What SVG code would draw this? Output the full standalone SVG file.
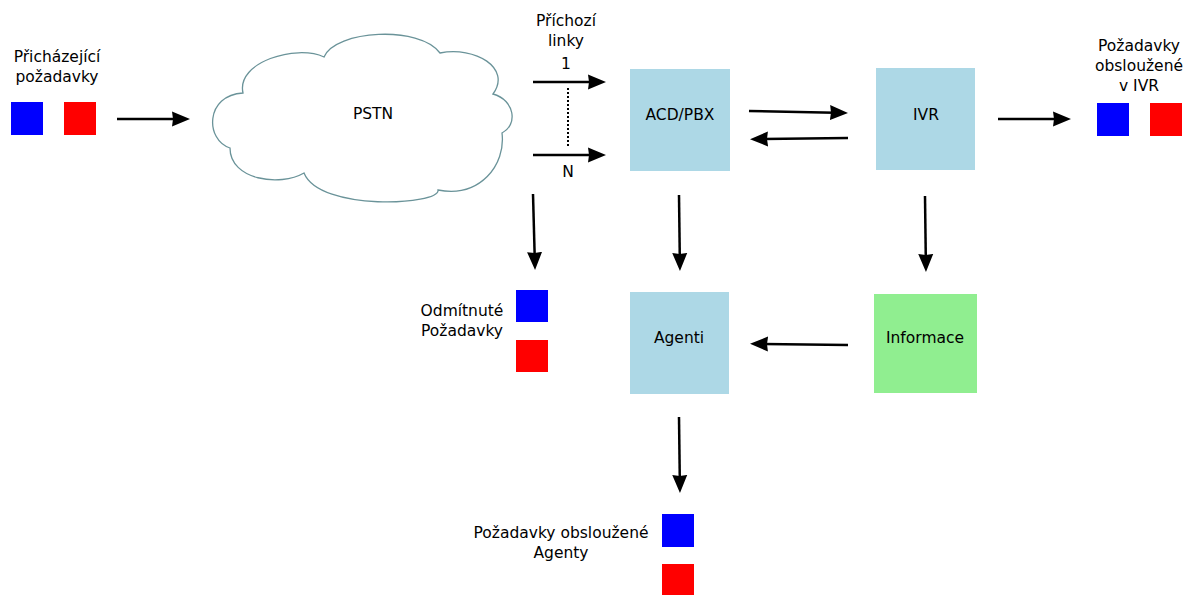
<svg xmlns="http://www.w3.org/2000/svg" width="1192" height="595" viewBox="0 0 1192 595">
<defs>
<marker id="ah" markerUnits="userSpaceOnUse" markerWidth="20" markerHeight="20" viewBox="-5 -10 20 20" refX="0" refY="0" orient="auto">
<path d="M-4,0 L-5,-7.5 L13,0 L-5,7.5 Z" fill="#000"/>
</marker>
</defs>
<style>
text{font-family:"DejaVu Sans","Liberation Sans",sans-serif;font-size:15.5px;fill:#000;text-anchor:middle}
.box{fill:#add8e6}
.green{fill:#90ee90}
.blue{fill:#0000ff}
.red{fill:#ff0000}
.conn line{stroke:#000;stroke-width:2.5;fill:none;marker-end:url(#ah)}
</style>
<rect width="1192" height="595" fill="#fff"/>
<g id="incoming">
<text x="57" y="62">Přicházející</text>
<text x="57" y="82">požadavky</text>
<rect class="blue" x="11" y="102" width="32" height="33"/>
<rect class="red" x="64" y="102" width="32" height="33"/>
</g>
<g id="pstn">
<path d="M243,93 C236,62 296,44 324,57 C335,30 420,25 440,53 C475,46 512,68 493,94 C515,100 518,125 502,133 C506,165 480,198 438,190 C440,205 320,212 304,173 C280,187 230,180 230,148 C205,140 205,95 243,93 Z" fill="#fff" stroke="#6a9399" stroke-width="1.3"/>
<text x="373" y="119">PSTN</text>
</g>
<g id="lines-label">
<text x="566" y="26">Příchozí</text>
<text x="566" y="46">linky</text>
<text x="566" y="69">1</text>
<text x="568" y="177">N</text>
</g>
<g id="acd">
<rect class="box" x="630" y="69" width="100" height="102"/>
<text x="680" y="120">ACD/PBX</text>
</g>
<g id="ivr">
<rect class="box" x="876" y="68" width="99" height="102"/>
<text x="926" y="120">IVR</text>
</g>
<g id="ivr-served">
<text x="1139" y="51">Požadavky</text>
<text x="1139" y="71">obsloužené</text>
<text x="1139" y="91">v IVR</text>
<rect class="blue" x="1097" y="103" width="32" height="33"/>
<rect class="red" x="1150" y="103" width="32" height="33"/>
</g>
<g id="rejected">
<text x="462" y="316">Odmítnuté</text>
<text x="462" y="336">Požadavky</text>
<rect class="blue" x="516" y="290" width="32" height="32"/>
<rect class="red" x="516" y="340" width="32" height="32"/>
</g>
<g id="agenti">
<rect class="box" x="630" y="292" width="99" height="102"/>
<text x="679" y="343">Agenti</text>
</g>
<g id="informace">
<rect class="green" x="874" y="294" width="103" height="99"/>
<text x="925" y="343">Informace</text>
</g>
<g id="agent-served">
<text x="561" y="538">Požadavky obsloužené</text>
<text x="561" y="558">Agenty</text>
<rect class="blue" x="662" y="514" width="32" height="33"/>
<rect class="red" x="662" y="564" width="32" height="32"/>
</g>
<g id="connectors" class="conn">
<line x1="117" y1="119" x2="177" y2="119"/>
<line x1="533" y1="82" x2="593" y2="82"/>
<line x1="533" y1="155" x2="593" y2="155"/>
<line x1="749" y1="111" x2="835" y2="112.7"/>
<line x1="848" y1="138" x2="763" y2="139"/>
<line x1="998" y1="119" x2="1058" y2="119"/>
<line x1="533" y1="194" x2="534.7" y2="257"/>
<line x1="679" y1="195" x2="679.8" y2="258"/>
<line x1="925" y1="196" x2="925.8" y2="259"/>
<line x1="848" y1="345" x2="763" y2="344"/>
<line x1="679" y1="417" x2="679.8" y2="480"/>
<path d="M568,88 L568,146" stroke="#000" stroke-width="2" stroke-dasharray="2,2" fill="none"/>
</g>
</svg>
